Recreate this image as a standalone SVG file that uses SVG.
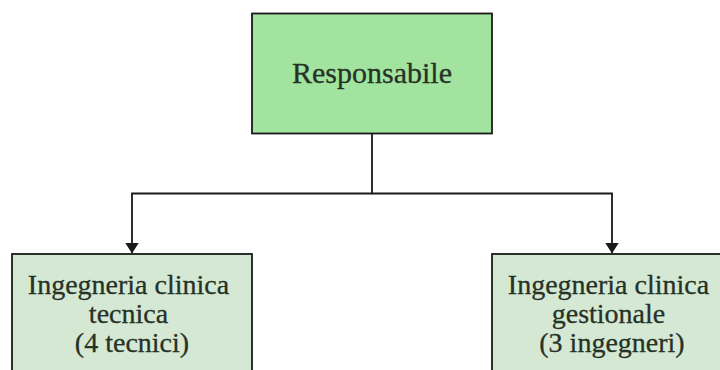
<svg xmlns="http://www.w3.org/2000/svg" width="720" height="370" viewBox="0 0 720 370">
  <style>
    .box { stroke: #1a1a1a; stroke-width: 1.8; }
    .head { fill: #a2e3a0; }
    .unit { fill: #d5e8d4; }
    .label { font-family: "Liberation Serif", "DejaVu Serif", serif; fill: #263226; text-anchor: middle; stroke: #263226; stroke-width: 0.3; }
    .edge { fill: none; stroke: #1a1a1a; stroke-width: 1.8; }
  </style>
  <defs>
    <marker id="arrow" viewBox="0 0 11 14" refX="11" refY="7" markerWidth="11" markerHeight="14" markerUnits="userSpaceOnUse" orient="auto">
      <path d="M0,0 L11,7 L0,14 Z" fill="#1a1a1a"/>
    </marker>
  </defs>
  <rect width="720" height="370" fill="#ffffff"/>

  <g id="connectors">
    <path class="edge" d="M372,134 V193.5 H132 V253.5" marker-end="url(#arrow)"/>
    <path class="edge" d="M372,193.5 H612 V253.5" marker-end="url(#arrow)"/>
  </g>

  <g id="responsabile">
    <rect class="box head" x="252" y="13.5" width="240" height="120"/>
    <text class="label" x="372" y="83" font-size="30">Responsabile</text>
  </g>

  <g id="ic-tecnica">
    <rect class="box unit" x="12" y="254" width="240" height="130"/>
    <text class="label" font-size="28">
      <tspan x="132" y="294">Ingegneria clinica</tspan>
      <tspan x="132" y="323">tecnica</tspan>
      <tspan x="132" y="352">(4 tecnici)</tspan>
    </text>
  </g>

  <g id="ic-gestionale">
    <rect class="box unit" x="492" y="254" width="240" height="130"/>
    <text class="label" font-size="28">
      <tspan x="612" y="294">Ingegneria clinica</tspan>
      <tspan x="612" y="323">gestionale</tspan>
      <tspan x="612" y="352">(3 ingegneri)</tspan>
    </text>
  </g>
</svg>
